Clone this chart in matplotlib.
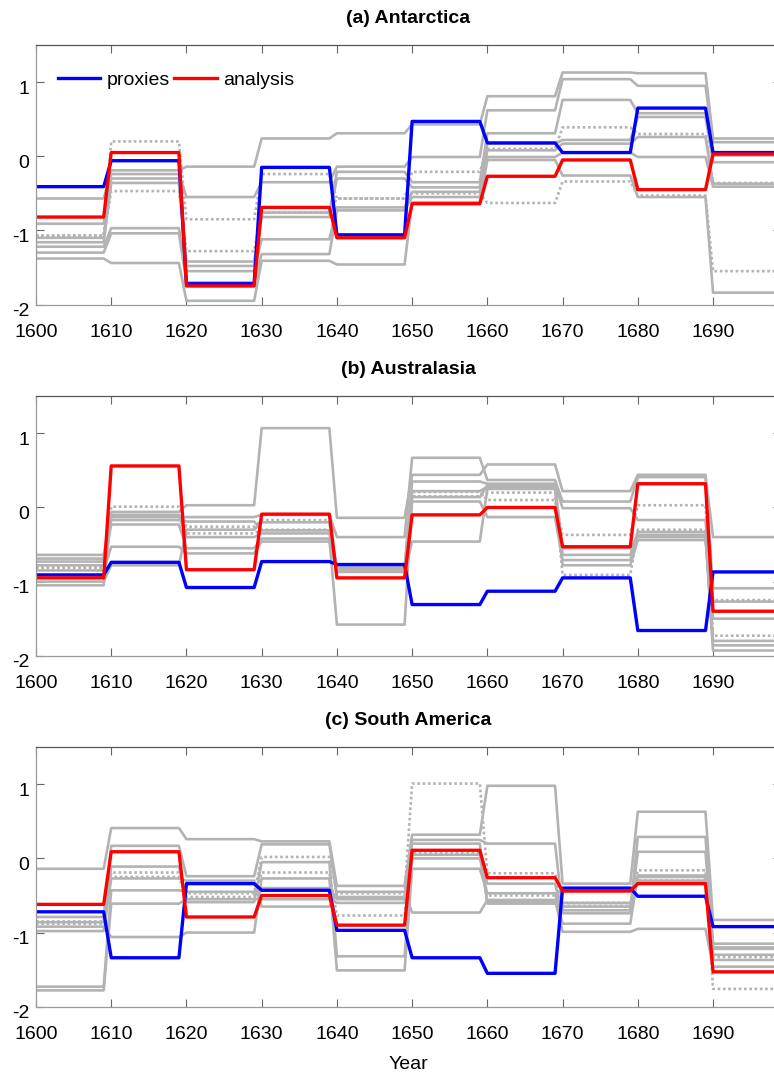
import numpy as np
import matplotlib
matplotlib.use("Agg")
import matplotlib.pyplot as plt
from matplotlib.transforms import ScaledTranslation

plt.rcParams["font.family"] = ["Liberation Sans", "DejaVu Sans"]

# Decadal reconstructions, one value per decade starting 1600
decades = np.arange(1600, 1700, 10)
years = np.arange(1600, 1700)

titles = ["(a) Antarctica", "(b) Australasia", "(c) South America"]
yticks = [-2, -1, 0, 1]
xticks = list(range(1600, 1700, 10))

# (a) Antarctica
ant_proxies = [-0.41, -0.06, -1.72, -0.15, -1.06, 0.47, 0.18, 0.05, 0.65, 0.05]
ant_analysis = [-0.82, 0.05, -1.75, -0.69, -1.10, -0.64, -0.27, -0.05, -0.45, 0.03]
ant_members = [
    [-0.57, -0.19, -0.14, 0.24, 0.31, 0.43, 0.81, 1.13, 1.12, 0.24],
    [-0.91, -0.24, -0.55, -0.35, -0.14, -0.01, 0.62, 1.04, 0.95, 0.19],
    [-1.10, -0.30, -1.42, -0.76, -0.21, -0.35, 0.31, 0.76, 0.58, 0.01],
    [-1.16, -0.36, -1.48, -0.82, -0.30, -0.42, 0.17, 0.22, 0.53, -0.08],
    [-1.22, -0.97, -1.55, -1.12, -0.69, -0.48, 0.08, 0.17, 0.26, -0.37],
    [-1.30, -1.04, -1.70, -1.32, -0.73, -0.55, -0.01, 0.05, -0.01, -0.41],
    [-1.38, -1.44, -1.95, -1.41, -1.46, -0.62, -0.05, -0.26, -0.55, -1.84],
]
ant_members_dotted = [
    [-1.07, 0.20, -0.85, -0.24, -0.57, -0.21, 0.10, 0.39, 0.30, -0.36],
    [-1.07, -0.47, -1.28, -0.76, -0.57, -0.50, -0.63, -0.34, -0.53, -1.55],
]

# (b) Australasia
aus_proxies = [-0.91, -0.74, -1.08, -0.73, -0.77, -1.31, -1.13, -0.95, -1.66, -0.87]
aus_analysis = [-0.95, 0.56, -0.84, -0.09, -0.95, -0.10, 0.00, -0.53, 0.32, -1.40]
aus_members = [
    [-0.64, -0.06, 0.03, 1.07, -0.14, 0.44, 0.58, 0.22, 0.44, -0.40],
    [-0.69, -0.13, -0.13, -0.10, -0.40, 0.67, 0.37, 0.08, 0.41, -1.09],
    [-0.73, -0.17, -0.19, -0.31, -0.80, 0.35, 0.32, -0.01, -0.17, -1.50],
    [-0.78, -0.23, -0.55, -0.42, -1.58, 0.14, 0.30, -0.64, -0.33, -1.86],
    [-0.85, -0.53, -0.62, -0.46, -0.85, 0.08, -0.13, -0.71, -0.37, -1.93],
    [-1.00, -0.78, -0.30, -0.20, -0.87, -0.46, 0.25, -0.78, -0.44, -1.27],
    [-1.05, -0.10, -0.40, -0.35, -0.83, 0.22, 0.28, -0.55, -0.40, -1.80],
]
aus_members_dotted = [
    [-0.82, 0.01, -0.26, -0.17, -0.83, 0.21, 0.10, -0.37, 0.03, -1.73],
    [-0.80, -0.12, -0.35, -0.30, -0.85, 0.15, 0.20, -0.91, -0.30, -1.25],
]

# (c) South America
sam_proxies = [-0.72, -1.34, -0.34, -0.43, -0.97, -1.34, -1.55, -0.40, -0.51, -0.92]
sam_analysis = [-0.62, 0.09, -0.79, -0.50, -0.90, 0.11, -0.26, -0.44, -0.34, -1.53]
sam_members = [
    [-0.14, 0.41, 0.26, 0.23, -0.37, 0.32, 0.98, -0.34, 0.63, -0.83],
    [-0.79, 0.17, -0.24, 0.19, -0.52, 0.25, 0.20, -0.70, 0.29, -1.15],
    [-0.86, -0.11, -0.59, -0.05, -1.32, 0.00, -0.34, -0.74, 0.09, -1.22],
    [-0.92, -1.06, -1.00, -0.27, -1.51, -0.14, -0.47, -0.88, -0.23, -1.37],
    [-0.98, -0.27, -0.30, -0.65, -0.45, -0.73, -0.56, -0.99, -0.95, -1.46],
    [-1.73, -0.43, -0.45, -0.40, -0.55, 0.20, -0.61, -0.65, -0.25, -1.20],
    [-1.78, -0.61, -0.55, -0.55, -0.60, 0.05, -0.59, -0.60, -0.30, -1.30],
]
sam_members_dotted = [
    [-0.88, -0.19, -0.47, 0.02, -0.47, 1.01, -0.20, -0.64, -0.16, -1.76],
    [-0.85, -0.25, -0.52, -0.19, -0.77, 0.07, -0.50, -0.60, -0.30, -1.33],
]

panels = [
    (ant_members, ant_members_dotted, ant_proxies, ant_analysis),
    (aus_members, aus_members_dotted, aus_proxies, aus_analysis),
    (sam_members, sam_members_dotted, sam_proxies, sam_analysis),
]


def annual(values):
    """Hold each decadal value for its ten years."""
    return np.repeat(np.asarray(values, dtype=float), 10)


fig = plt.figure(figsize=(7.74, 10.73), dpi=100)
left, width, height = 0.0465, 0.9622, 0.2418
bottoms = [0.7162, 0.3889, 0.0618]

grey = "#b3b3b3"
label_shift = ScaledTranslation(0, -5 / 100, fig.dpi_scale_trans)

for k, (members, dotted, proxies, analysis) in enumerate(panels):
    ax = fig.add_axes([left, bottoms[k], width, height])
    for m in members:
        ax.plot(years, annual(m), color=grey, lw=1.9, solid_joinstyle="round")
    for m in dotted:
        ax.plot(years, annual(m), color=grey, lw=1.9, linestyle=(0, (1.0, 1.0)))
    ax.plot(years, annual(proxies), color="#0000ff", lw=2.4, label="proxies")
    ax.plot(years, annual(analysis), color="#ff0000", lw=2.4, label="analysis")

    ax.set_xlim(1600, 1699)
    ax.set_ylim(-2, 1.5)
    ax.set_xticks(xticks)
    ax.set_yticks(yticks)
    ax.set_yticklabels([str(v) for v in yticks])
    ax.tick_params(direction="in", length=5.5, width=0.8, labelsize=14,
                   top=True, right=True, color="#666666")
    ax.tick_params(axis="x", pad=14)
    ax.tick_params(axis="y", pad=5)
    for t in ax.yaxis.get_major_ticks():
        t.label1.set_transform(t.label1.get_transform() + label_shift)
    for side in ["left", "bottom"]:
        ax.spines[side].set_color("#9a9a9a")
    ax.spines["top"].set_color("#555555")
    ax.spines["right"].set_color("#555555")
    for sp in ax.spines.values():
        sp.set_linewidth(0.9)
    ax.set_title(titles[k], fontsize=14, fontweight="bold", pad=16)

    if k == 0:
        ax.legend(loc="upper left", bbox_to_anchor=(0.029, 0.90), ncol=2,
                  frameon=False, fontsize=14, handlelength=2.2,
                  handletextpad=0.3, columnspacing=0.25, borderpad=0,
                  borderaxespad=0)
    if k == 2:
        ax.set_xlabel("Year", fontsize=14, labelpad=9)

fig.savefig("out.png", dpi=100)
